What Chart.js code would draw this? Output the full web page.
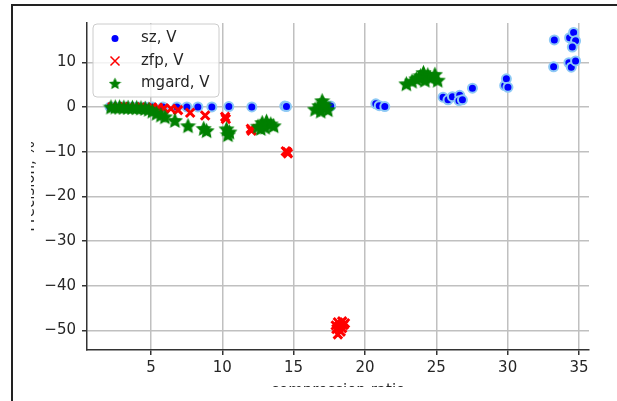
<!DOCTYPE html>
<html>
<head>
<meta charset="utf-8">
<script src="https://cdn.jsdelivr.net/npm/chart.js@4/dist/chart.umd.min.js"></script>
<style>
  body { margin: 0; background: #fff; }
  #wrap { position: relative; width: 617px; height: 401px; overflow: hidden; }
  #frame { position: absolute; left: 11px; top: 4px; right: -10px; bottom: -10px;
           border-top: 2px solid #222; border-left: 2px solid #222; pointer-events: none; }
  .cut { position: absolute; background: #fff; }
</style>
</head>
<body>
<div id="wrap">
  <canvas id="chart" width="617" height="401"></canvas>
  <div class="cut" style="left:14px; top:100px; width:17px; height:180px;"></div>
  <div class="cut" style="left:14px; top:387px; width:603px; height:14px;"></div>
  <div id="frame"></div>
</div>
<script>
// sz, V
const szX = [2.13, 2.5, 2.9, 3.3, 3.7, 4.1, 4.6, 5.1, 5.84, 6.82, 7.52, 8.29, 9.27, 10.46, 12.07, 14.38, 14.5,
  17.6, 20.76, 21.0, 21.39, 25.47, 25.82, 26.13, 26.64, 26.59, 26.83, 27.53, 29.79, 29.91, 30.02,
  33.27, 33.22, 34.34, 34.62, 34.76, 34.53, 34.29, 34.46, 34.76];
const szY = [0, 0, 0, 0, 0, 0, 0, 0, 0, 0, 0, 0, 0, 0.1, 0, 0.2, 0.1,
  0.2, 0.7, 0.3, 0.1, 2.2, 1.6, 2.3, 2.6, 1.4, 1.6, 4.2, 4.8, 6.3, 4.4,
  15.0, 9.0, 15.5, 16.7, 14.8, 13.4, 9.9, 8.9, 10.3];

// zfp, V
const zfpX = [2.3, 2.7, 3.1, 3.5, 3.9, 4.3, 4.7, 5.1, 5.5, 5.9, 6.4, 6.9, 7.75, 8.8, 10.2, 10.25,
  12.0, 12.05, 14.45, 14.6, 14.55,
  18.1, 18.4, 18.2, 18.5, 18.0, 18.3, 18.1, 18.4, 18.6, 17.95];
const zfpY = [0, 0, 0, 0, -0.05, -0.1, -0.1, -0.15, -0.2, -0.3, -0.4, -0.7, -1.3, -1.9, -2.2, -2.7,
  -4.9, -5.3, -9.9, -10.4, -10.1,
  -48.2, -48.0, -49.0, -48.8, -49.7, -50.3, -50.9, -49.5, -48.4, -48.9];

// mgard, V
const mgardX = [2.2, 2.5, 2.8, 3.1, 3.4, 3.7, 4.0, 4.3, 4.6, 4.85, 5.1, 5.4, 5.7, 5.98, 6.68, 7.6,
  8.7, 8.9, 10.3, 10.5, 10.4,
  12.5, 12.8, 13.1, 13.4, 13.0, 13.6, 12.7,
  16.5, 16.8, 17.0, 17.2, 17.4, 16.9, 17.1,
  22.9, 23.3, 23.6, 23.9, 24.1, 24.4, 24.6, 24.9, 25.1, 24.2, 23.8];
const mgardY = [0, 0, 0, -0.05, -0.1, -0.1, -0.15, -0.2, -0.3, -0.5, -0.9, -1.4, -1.8, -2.2, -3.0, -4.2,
  -4.8, -5.3, -4.9, -5.6, -6.2,
  -4.3, -3.5, -3.2, -3.8, -4.5, -4.2, -4.8,
  -0.5, 0.3, 1.4, 0.2, -0.6, -0.9, 0.7,
  5.2, 5.8, 6.3, 7.0, 7.7, 7.2, 6.5, 7.3, 6.0, 6.0, 6.6];

const xTicksStep = 5;
const yTicksStep = 10;

function pts(xs, ys) {
  return xs.map((x, i) => ({ x: x, y: ys[i] }));
}

function starPath(g, cx, cy, r) {
  g.beginPath();
  for (let i = 0; i < 10; i++) {
    const rad = i % 2 ? r * 0.47 : r;
    const a = -Math.PI / 2 + i * Math.PI / 5;
    g.lineTo(cx + rad * Math.cos(a), cy + rad * Math.sin(a));
  }
  g.closePath();
}

function starImage(r, color) {
  const c = document.createElement('canvas');
  const s = Math.ceil(r * 2 + 3);
  c.width = s; c.height = s;
  const g = c.getContext('2d');
  starPath(g, s / 2, s / 2 + r * 0.1, r);
  g.fillStyle = color;
  g.fill();
  g.lineWidth = 1.2;
  g.strokeStyle = color;
  g.stroke();
  return c;
}

const green = '#008000';
const dataStar = starImage(7, green);
const legendStar = starImage(5, green);

const font = 'DejaVu Sans';
const textColor = '#262626';

// legend box like matplotlib's, drawn inside the axes
const boxLegend = {
  id: 'boxLegend',
  afterDraw(chart) {
    const ctx = chart.ctx;
    const x0 = 93, y0 = 24, w = 126, h = 73;
    ctx.save();
    ctx.beginPath();
    ctx.roundRect(x0, y0, w, h, 4);
    ctx.fillStyle = 'rgba(255,255,255,0.8)';
    ctx.fill();
    ctx.lineWidth = 1;
    ctx.strokeStyle = '#cccccc';
    ctx.stroke();
    ctx.font = '15px "' + font + '"';
    ctx.textBaseline = 'middle';
    ctx.fillStyle = textColor;
    chart.data.datasets.forEach((ds, i) => {
      const cy = 38.5 + i * 22.5;
      const cx = 115;
      if (ds.pointStyle === 'circle') {
        ctx.beginPath();
        ctx.arc(cx, cy, 3.5, 0, Math.PI * 2);
        ctx.fillStyle = ds.backgroundColor;
        ctx.fill();
      } else if (ds.pointStyle === 'crossRot') {
        ctx.beginPath();
        ctx.moveTo(cx - 4.5, cy - 4.5); ctx.lineTo(cx + 4.5, cy + 4.5);
        ctx.moveTo(cx + 4.5, cy - 4.5); ctx.lineTo(cx - 4.5, cy + 4.5);
        ctx.strokeStyle = ds.borderColor;
        ctx.lineWidth = 1.5;
        ctx.stroke();
      } else {
        ctx.drawImage(legendStar, cx - legendStar.width / 2, cy - legendStar.height / 2);
      }
      ctx.fillStyle = textColor;
      ctx.fillText(ds.label, 141, cy);
    });
    ctx.restore();
  }
};

const minusTick = (v) => String(v).replace('-', '\u2212');

new Chart(document.getElementById('chart'), {
  type: 'scatter',
  data: {
    datasets: [
      {
        label: 'sz, V',
        data: pts(szX, szY),
        pointStyle: 'circle',
        pointRadius: 4.5,
        backgroundColor: '#0000ff',
        borderColor: '#8ec9f5',
        borderWidth: 2,
        order: 3
      },
      {
        label: 'zfp, V',
        data: pts(zfpX, zfpY),
        pointStyle: 'crossRot',
        pointRadius: 6,
        backgroundColor: '#ff0000',
        borderColor: '#ff0000',
        borderWidth: 3,
        order: 2
      },
      {
        label: 'mgard, V',
        data: pts(mgardX, mgardY),
        pointStyle: dataStar,
        pointRadius: 7,
        backgroundColor: green,
        borderColor: green,
        order: 1
      }
    ]
  },
  options: {
    responsive: false,
    animation: false,
    devicePixelRatio: 1,
    layout: { padding: { left: 12, top: 23, right: 28, bottom: 0 } },
    plugins: {
      legend: { display: false },
      tooltip: { enabled: false }
    },
    scales: {
      x: {
        type: 'linear',
        min: 0.52,
        max: 35.7,
        afterFit: (s) => { s.height = 51; },
        ticks: {
          stepSize: xTicksStep,
          includeBounds: false,
          padding: 4,
          color: textColor,
          font: { family: font, size: 15 },
          callback: minusTick
        },
        grid: { color: '#c0c0c0', lineWidth: 1.5, tickLength: 5, tickColor: '#333', tickWidth: 1.5 },
        border: { display: true, color: '#333', width: 1.5 },
        title: {
          display: true,
          text: 'compression ratio',
          color: textColor,
          font: { family: font, size: 15 },
          padding: { top: 1, bottom: 1 }
        }
      },
      y: {
        type: 'linear',
        min: -54.4,
        max: 18.8,
        afterFit: (s) => { s.width = 75; },
        ticks: {
          stepSize: yTicksStep,
          includeBounds: false,
          padding: 6,
          color: textColor,
          font: { family: font, size: 15 },
          callback: minusTick
        },
        grid: { color: '#c0c0c0', lineWidth: 1.5, tickLength: 5, tickColor: '#333', tickWidth: 1.5 },
        border: { display: true, color: '#333', width: 1.5 },
        title: {
          display: true,
          text: 'Precision, %',
          color: textColor,
          font: { family: font, size: 15 },
          padding: { top: 9, bottom: 9 }
        }
      }
    }
  },
  plugins: [boxLegend]
});
</script>
</body>
</html>
